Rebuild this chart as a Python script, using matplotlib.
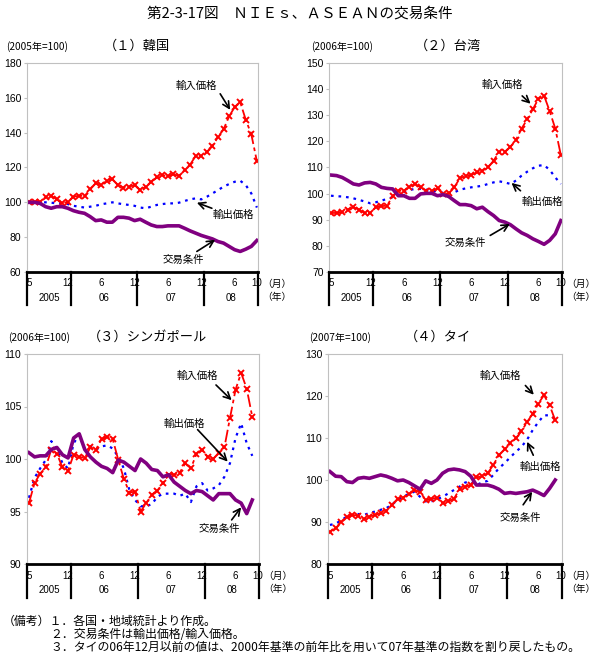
import matplotlib
matplotlib.use("Agg")
import matplotlib.pyplot as plt
import matplotlib.transforms as mtransforms
import numpy as np

plt.rcParams['font.family'] = ['Noto Sans CJK JP', 'DejaVu Sans']

# monthly, 2005/5 - 2008/10
month_pos = [0, 7, 13, 19, 25, 31, 37, 41]
month_labels = ['5', '12', '6', '12', '6', '12', '6', '10']
year_pos = [3.6, 13.5, 25.5, 36.4]
year_labels = ['2005', '06', '07', '08']
year_seps = [7.5, 19.5, 31.5]

# (1) Korea
kr_import = [100, 100.4, 100.4, 102.9, 103.8, 101.7, 99.4, 100.4, 103.2, 103.8, 103.6, 107.4,
             110.9, 109.9, 112.4, 113.3, 109.9, 108.4, 109, 109.9, 107, 109, 111.8, 114.3,
             115.6, 115.2, 116, 115.2, 118.5, 121.7, 126.7, 126.7, 129, 132.2, 137.5, 141.9,
             149.3, 154.7, 157.5, 147.4, 139, 123.6]
kr_export = [100, 100, 100, 100, 99.8, 99.4, 99.4, 99, 98, 97.5, 97, 97.5,
             98, 98.9, 99.4, 100, 99.4, 98.9, 98.5, 98, 97, 96.6, 97.5, 98.5,
             99, 99.4, 99.4, 99.8, 100.8, 101.7, 102.3, 101.7, 103.2, 105.1, 107, 109,
             110.5, 111.8, 112.4, 109.9, 105.1, 97]
kr_tot = [100, 100, 99.4, 97.5, 96.6, 97.5, 97.5, 96.6, 95.2, 94.3, 93.7, 91.8,
          89.5, 89.9, 88.6, 88.6, 91.4, 91.4, 90.9, 89.5, 90.3, 88.6, 87, 86.1,
          86.1, 86.5, 86.5, 86.5, 85.1, 83.6, 82.3, 81, 80, 79, 77.5, 76.6,
          74.7, 72.8, 71.8, 73.1, 74.7, 78.1]

# (2) Taiwan
tw_import = [92.6, 92.6, 92.9, 93.9, 94.8, 93.9, 92.5, 92.6, 94.8, 95.2, 95.4, 99,
             101.1, 101.1, 102.7, 103.7, 102.4, 101.1, 101.1, 102, 99.9, 100.1, 102.4, 106,
             106.6, 107.1, 108.1, 108.8, 110, 112.6, 116, 116, 117.9, 120.6, 124.9, 128.5,
             132.3, 136.3, 137.5, 131.6, 124.9, 114.7]
tw_export = [99.2, 99, 98.9, 98.6, 98.2, 97.6, 97, 96.3, 96.7, 97.3, 98, 98.6,
             99.5, 100.5, 101.4, 101.8, 101.8, 101.5, 101.1, 100.8, 100.3, 100.3, 100.5, 101.5,
             102, 102.4, 102.7, 103, 103.7, 104.3, 104.7, 104.3, 103.7, 105, 106.9, 108.4,
             109.7, 110.7, 110.9, 109.1, 106.2, 103.7]
tw_tot = [107.1, 106.9, 106.2, 105, 103.7, 103.3, 104.1, 104.3, 103.7, 102.4, 102, 101.8,
          99.2, 99.2, 98.2, 98.2, 99.9, 100.1, 100.1, 99.2, 99.6, 98.9, 97.3, 95.8,
          95.8, 95.4, 94.2, 94.8, 93.1, 91.6, 89.7, 89.1, 88.1, 86.5, 85, 84,
          82.7, 81.7, 80.6, 82.1, 84.6, 89.7]

# (3) Singapore (to 2008/9)
sg_import = [95.8, 97.7, 98.6, 99.2, 100.9, 100.5, 99.2, 98.9, 100.4, 100.2, 100.1, 101.1,
             100.9, 101.9, 102.1, 101.9, 99.9, 98.1, 96.8, 96.9, 95, 95.8, 96.6, 97,
             97.7, 98.5, 98.5, 98.7, 99.6, 99.1, 100.5, 100.9, 100.2, 100, 100.6, 101.1,
             103.9, 106.6, 108.2, 106.7, 104]
sg_export = [96.3, 98.2, 99.1, 99.9, 101.7, 100.9, 99.6, 99.1, 101.5, 102.3, 100.9, 101.2,
             100.9, 101.2, 101.3, 101, 100.2, 99.1, 97, 96.1, 95.5, 95.5, 95.7, 96.4,
             96.7, 96.7, 96.7, 96.5, 96.7, 95.9, 97.4, 97.7, 97, 97.2, 97.5, 98.3,
             99.6, 102, 103.4, 101.5, 100.3]
sg_tot = [100.6, 100.2, 100.3, 100.3, 100.9, 101.1, 100.4, 100.1, 102, 102.4, 100.9, 100.2,
          99.7, 99.3, 99.1, 98.7, 99.9, 99.7, 99.3, 98.9, 100, 99.6, 99, 98.9,
          98.3, 98.5, 97.8, 97.4, 97, 96.7, 97, 96.9, 96.5, 96.1, 96.7, 96.7,
          96.7, 96.1, 95.8, 94.8, 96.1]

# (4) Thailand (to 2008/9)
th_import = [87.7, 88.5, 89.9, 91.1, 91.7, 91.5, 90.7, 91.3, 91.7, 92.1, 92.6, 94.1,
             95.5, 95.8, 96.6, 97.6, 97.1, 95.3, 95.5, 95.8, 94.5, 94.9, 95.5, 97.8,
             98.4, 98.8, 100.6, 100.9, 101.6, 103.6, 105.9, 107.3, 108.7, 109.9, 111.6, 113.8,
             115.8, 118.2, 120.2, 117.8, 114.2]
th_export = [89.3, 89.6, 90.4, 91.3, 91.7, 91.9, 91.7, 92.1, 92.5, 92.9, 93.3, 94.1,
             95.3, 96, 96.7, 97.2, 96, 94.9, 94.9, 95.4, 96, 96.8, 97.6, 98.4,
             99.4, 99.6, 98.8, 99.4, 99.8, 101.2, 102.8, 104, 105.4, 106.7, 107.9, 109.6,
             111.9, 113.8, 115.4, 115.4, 114.6]
th_tot = [102, 100.9, 100.8, 99.6, 99.4, 100.4, 100.6, 100.4, 100.8, 101.2, 100.9, 100.4,
          99.8, 100, 99.4, 98.6, 97.8, 99.8, 99.2, 100, 101.6, 102.4, 102.6, 102.4,
          102, 100.9, 98.8, 98.8, 98.8, 98.4, 97.8, 96.8, 97, 96.8, 97, 97.2,
          97.6, 97, 96.3, 98, 100]

LBL_IMP, LBL_EXP, LBL_TOT = '輸入価格', '輸出価格', '交易条件'


def draw_panel(ax, imp, exp, tot, ylim, ystep, notes):
    ax.plot(np.arange(len(exp)), exp, color='#0000ff', ls=(0, (1.2, 2.2)), lw=1.6)
    ax.plot(np.arange(len(imp)), imp, color='#ff0000', ls=(0, (7, 2, 2, 2)), lw=1.3,
            marker='x', ms=4.5, mew=1.4)
    ax.plot(np.arange(len(tot)), tot, color='#800080', lw=2.6)

    ax.set_xlim(-0.35, 41.2)
    ax.set_ylim(*ylim)
    ax.set_yticks(np.arange(ylim[0], ylim[1] + 0.1, ystep))
    ax.set_xticks([])
    for s in ['top', 'right', 'left']:
        ax.spines[s].set_color('#c0c0c0')
        ax.spines[s].set_linewidth(0.8)
    ax.spines['bottom'].set_color('black')
    ax.spines['bottom'].set_linewidth(2)
    ax.tick_params(axis='y', length=2, color='#c0c0c0', labelsize=7.5, pad=2)
    for t in ax.get_yticklabels():
        t.set_family('Liberation Sans')

    # category axis below
    trans = mtransforms.blended_transform_factory(ax.transData, ax.transAxes)
    for xs in [-0.35] + year_seps + [41.2]:
        ax.plot([xs, xs], [0, -0.16], transform=trans, color='black', lw=1.6,
                clip_on=False)
    for p, l in zip(month_pos, month_labels):
        ax.text(p, -0.055, l, transform=trans, ha='center', va='center', fontsize=7,
                family='Liberation Sans')
    for p, l in zip(year_pos, year_labels):
        ax.text(p, -0.125, l, transform=trans, ha='center', va='center', fontsize=7,
                family='Liberation Sans')
    ax.text(1.08, -0.055, '（月）', transform=ax.transAxes, ha='center', va='center', fontsize=7)
    ax.text(1.08, -0.12, '（年）', transform=ax.transAxes, ha='center', va='center', fontsize=7)

    for label, txt_xy, tail, head in notes:
        ax.text(txt_xy[0], txt_xy[1], label, ha='center', va='center', fontsize=7.5)
        ax.annotate('', xy=head, xytext=tail,
                    arrowprops=dict(arrowstyle='->', color='black', lw=1.2,
                                    mutation_scale=12, shrinkA=0, shrinkB=0))


fig = plt.figure(figsize=(6, 6.56), dpi=100)
W, H = 600, 656


def axes_px(l, t, r, b):
    return fig.add_axes([l / W, 1 - b / H, (r - l) / W, (b - t) / H])


ax1 = axes_px(27, 63, 258, 272)
ax2 = axes_px(329, 63, 562, 272)
ax3 = axes_px(27, 354, 259, 564)
ax4 = axes_px(328, 354, 562, 564)

draw_panel(ax1, kr_import, kr_export, kr_tot, (60, 180), 20, [
    (LBL_IMP, (30.2, 167), (34.4, 162.3), (36.2, 153.1)),
    (LBL_EXP, (36.8, 92.8), (32.9, 96.6), (30.2, 99.8)),
    (LBL_TOT, (27.8, 67), (30.2, 71.8), (33.5, 78.5)),
])
draw_panel(ax2, tw_import, tw_export, tw_tot, (70, 150), 10, [
    (LBL_IMP, (30.5, 141.8), (34.1, 137.4), (35.6, 134.4)),
    (LBL_EXP, (37.7, 96.7), (33.8, 101.1), (32.2, 104.1)),
    (LBL_TOT, (23.9, 81.2), (28.4, 84), (31.9, 88.4)),
])
draw_panel(ax3, sg_import, sg_export, sg_tot, (90, 110), 5, [
    (LBL_IMP, (30.2, 107.9), (33.5, 107.05), (36.3, 105.6)),
    (LBL_EXP, (27.8, 103.3), (30.2, 102.8), (35.6, 99.75)),
    (LBL_TOT, (34.1, 93.3), (36.3, 94.2), (38, 95.4)),
])
draw_panel(ax4, th_import, th_export, th_tot, (80, 130), 10, [
    (LBL_IMP, (30.2, 124.9), (34.7, 122.5), (36.2, 120.3)),
    (LBL_EXP, (37.4, 103.2), (36.1, 105.9), (35, 109.1)),
    (LBL_TOT, (33.8, 90.9), (34.3, 94.1), (35.9, 97.2)),
])


def ftext(x, y, s, **kw):
    fig.text(x / W, 1 - y / H, s, **kw)


ftext(300, 14, '第2-3-17図　ＮＩＥｓ、ＡＳＥＡＮの交易条件', ha='center', va='center',
      fontsize=10.5)
ftext(6, 47, '(2005年=100)', ha='left', va='center', fontsize=7.3)
ftext(137, 46, '（１）韓国', ha='center', va='center', fontsize=9.5)
ftext(311, 47, '(2006年=100)', ha='left', va='center', fontsize=7.3)
ftext(448, 46, '（２）台湾', ha='center', va='center', fontsize=9.5)
ftext(8, 338, '(2006年=100)', ha='left', va='center', fontsize=7.3)
ftext(147, 337, '（３）シンガポール', ha='center', va='center', fontsize=9.5)
ftext(309, 338, '(2007年=100)', ha='left', va='center', fontsize=7.3)
ftext(438, 337, '（４）タイ', ha='center', va='center', fontsize=9.5)

ftext(3, 621, '（備考）１．各国・地域統計より作成。', ha='left', va='center', fontsize=8.6)
ftext(50, 634, '２．交易条件は輸出価格/輸入価格。', ha='left', va='center', fontsize=8.6)
ftext(50, 647, '３．タイの06年12月以前の値は、2000年基準の前年比を用いて07年基準の指数を割り戻したもの。',
      ha='left', va='center', fontsize=8.6)

fig.savefig('out.png', dpi=100)
